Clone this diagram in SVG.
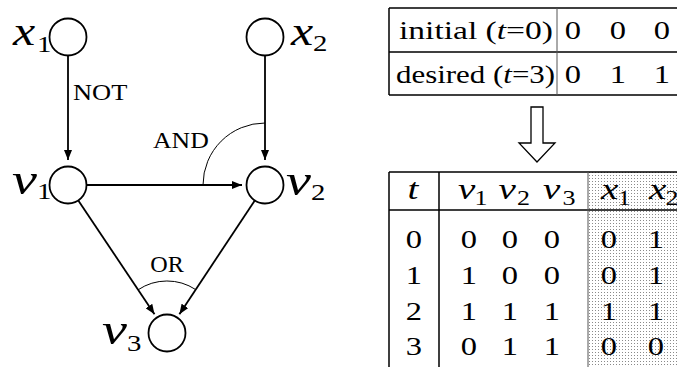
<svg xmlns="http://www.w3.org/2000/svg" width="677" height="367" viewBox="0 0 677 367">
<defs>
<marker id="ah" markerUnits="userSpaceOnUse" markerWidth="10" markerHeight="8" refX="10" refY="4" orient="auto">
<path d="M0,0 L10,4 L0,8 z" fill="#000"/>
</marker>
<pattern id="dots" width="3" height="3" patternUnits="userSpaceOnUse">
<rect width="3" height="3" fill="#fff"/>
<rect x="1" y="1" width="1" height="1" fill="#8a8a8a"/>
</pattern>
<style>
.node{fill:#fff;stroke:#000;stroke-width:1.8}
.edge{fill:none;stroke:#000;stroke-width:1.8}
.arc{fill:none;stroke:#000;stroke-width:1}
.lbl{font-family:"Liberation Serif","Times New Roman",serif;font-style:italic;fill:#000}
.big{font-size:40px}
.bigv{font-size:45px}
.sub{font-family:"Liberation Serif","Times New Roman",serif;font-size:24px;fill:#000}
.op{font-family:"Liberation Serif","Times New Roman",serif;font-size:23px;fill:#000}
.tt{font-family:"Liberation Serif","Times New Roman",serif;font-size:26px;fill:#000}
.mid{text-anchor:middle}
.hd{font-family:"Liberation Serif","Times New Roman",serif;font-style:italic;font-size:30px;fill:#000}
.hs{font-family:"Liberation Serif","Times New Roman",serif;font-size:20px;fill:#000}
.bl{stroke:#000;stroke-width:1.5;fill:none}
.gl{stroke:#555;stroke-width:1;fill:none}
</style>
</defs>
<rect width="677" height="367" fill="#fff"/>

<g id="connectors">
<path class="edge" d="M68,55.5 L68,160" marker-end="url(#ah)"/>
<path class="edge" d="M265,55.5 L265,160" marker-end="url(#ah)"/>
<path class="edge" d="M86.5,185 L242,185" marker-end="url(#ah)"/>
<path class="edge" d="M78.3,200.4 L154.5,314.3" marker-end="url(#ah)"/>
<path class="edge" d="M254.8,200.4 L179.4,314.2" marker-end="url(#ah)"/>
<path class="arc" d="M265,123 A62,62 0 0 0 203,185"/>
<path class="arc" d="M138.1,289.8 A52,52 0 0 1 195.7,289.6"/>
<text class="op" transform="translate(73,100) scale(1.15,1)">NOT</text>
<text class="op" transform="translate(153,148) scale(1.12,1)">AND</text>
<text class="op mid" transform="translate(167,272) scale(1.05,1)">OR</text>
</g>

<g id="x1">
<circle class="node" cx="68" cy="37" r="18.5"/>
<text class="lbl big" transform="translate(13,45) scale(1.25,1)">x</text>
<text class="sub" transform="translate(37,52) scale(1.2,1)">1</text>
</g>
<g id="x2">
<circle class="node" cx="265" cy="37" r="18.5"/>
<text class="lbl big" transform="translate(291,45) scale(1.25,1)">x</text>
<text class="sub" transform="translate(313,51) scale(1.2,1)">2</text>
</g>
<g id="v1">
<circle class="node" cx="68" cy="185" r="18.5"/>
<text class="lbl bigv" transform="translate(12,194) scale(1.25,1)">v</text>
<text class="sub" transform="translate(37,199) scale(1.2,1)">1</text>
</g>
<g id="v2">
<circle class="node" cx="265" cy="185" r="18.5"/>
<text class="lbl bigv" transform="translate(286,195) scale(1.25,1)">v</text>
<text class="sub" transform="translate(311,200) scale(1.2,1)">2</text>
</g>
<g id="v3">
<circle class="node" cx="167" cy="333" r="18.5"/>
<text class="lbl bigv" transform="translate(102,344) scale(1.25,1)">v</text>
<text class="sub" transform="translate(127,351) scale(1.2,1)">3</text>
</g>

<g id="table-top">
<path class="bl" d="M389,8 H677 M389,52 H677 M389,95 H677 M389,8 V95"/>
<path class="gl" d="M557,8 V95"/>
<text class="tt" transform="translate(399,39) scale(1.29,1)">initial (<tspan font-style="italic">t</tspan>=0)</text>
<text class="tt" transform="translate(396,83) scale(1.19,1)">desired (<tspan font-style="italic">t</tspan>=3)</text>
<g transform="scale(1.25,1)">
<text class="tt mid" x="458.4" y="39">0</text>
<text class="tt mid" x="494.4" y="39">0</text>
<text class="tt mid" x="529.6" y="39">0</text>
<text class="tt mid" x="458.4" y="83">0</text>
<text class="tt mid" x="494.4" y="83">1</text>
<text class="tt mid" x="529.6" y="83">1</text>
</g>
</g>

<g id="arrow">
<polygon points="531,107 543,107 543,143 555,143 537,162 519,143 531,143" fill="#fff" stroke="#000" stroke-width="1.3"/>
</g>

<g id="table-bottom">
<rect x="588" y="172" width="89" height="195" fill="url(#dots)"/>
<path class="bl" d="M389,172 H677 M389,210 H677 M389,172 V367 M439,172 V367"/>
<path class="gl" d="M588,172 V367"/>
<g transform="scale(1.3,1)">
<text class="hd mid" x="317.7" y="199">t</text>
<text class="hd" x="352.3" y="199">v</text><text class="hs" x="365" y="205">1</text>
<text class="hd" x="383.5" y="199">v</text><text class="hs" x="397.6" y="205">2</text>
<text class="hd" x="417.7" y="199">v</text><text class="hs" x="432.6" y="205">3</text>
<text class="hd" x="462.3" y="199">x</text><text class="hs" x="475.2" y="205">1</text>
<text class="hd" x="499.2" y="199">x</text><text class="hs" x="512" y="205">2</text>
</g>
<g transform="scale(1.25,1)">
<text class="tt mid" x="331.2" y="248">0</text><text class="tt mid" x="375.2" y="248">0</text><text class="tt mid" x="408" y="248">0</text><text class="tt mid" x="441.6" y="248">0</text><text class="tt mid" x="487.2" y="248">0</text><text class="tt mid" x="524.8" y="248">1</text>
<text class="tt mid" x="331.2" y="284">1</text><text class="tt mid" x="375.2" y="284">1</text><text class="tt mid" x="408" y="284">0</text><text class="tt mid" x="441.6" y="284">0</text><text class="tt mid" x="487.2" y="284">0</text><text class="tt mid" x="524.8" y="284">1</text>
<text class="tt mid" x="331.2" y="320">2</text><text class="tt mid" x="375.2" y="320">1</text><text class="tt mid" x="408" y="320">1</text><text class="tt mid" x="441.6" y="320">1</text><text class="tt mid" x="487.2" y="320">1</text><text class="tt mid" x="524.8" y="320">1</text>
<text class="tt mid" x="331.2" y="355">3</text><text class="tt mid" x="375.2" y="355">0</text><text class="tt mid" x="408" y="355">1</text><text class="tt mid" x="441.6" y="355">1</text><text class="tt mid" x="487.2" y="355">0</text><text class="tt mid" x="524.8" y="355">0</text>
</g>
</g>
</svg>
